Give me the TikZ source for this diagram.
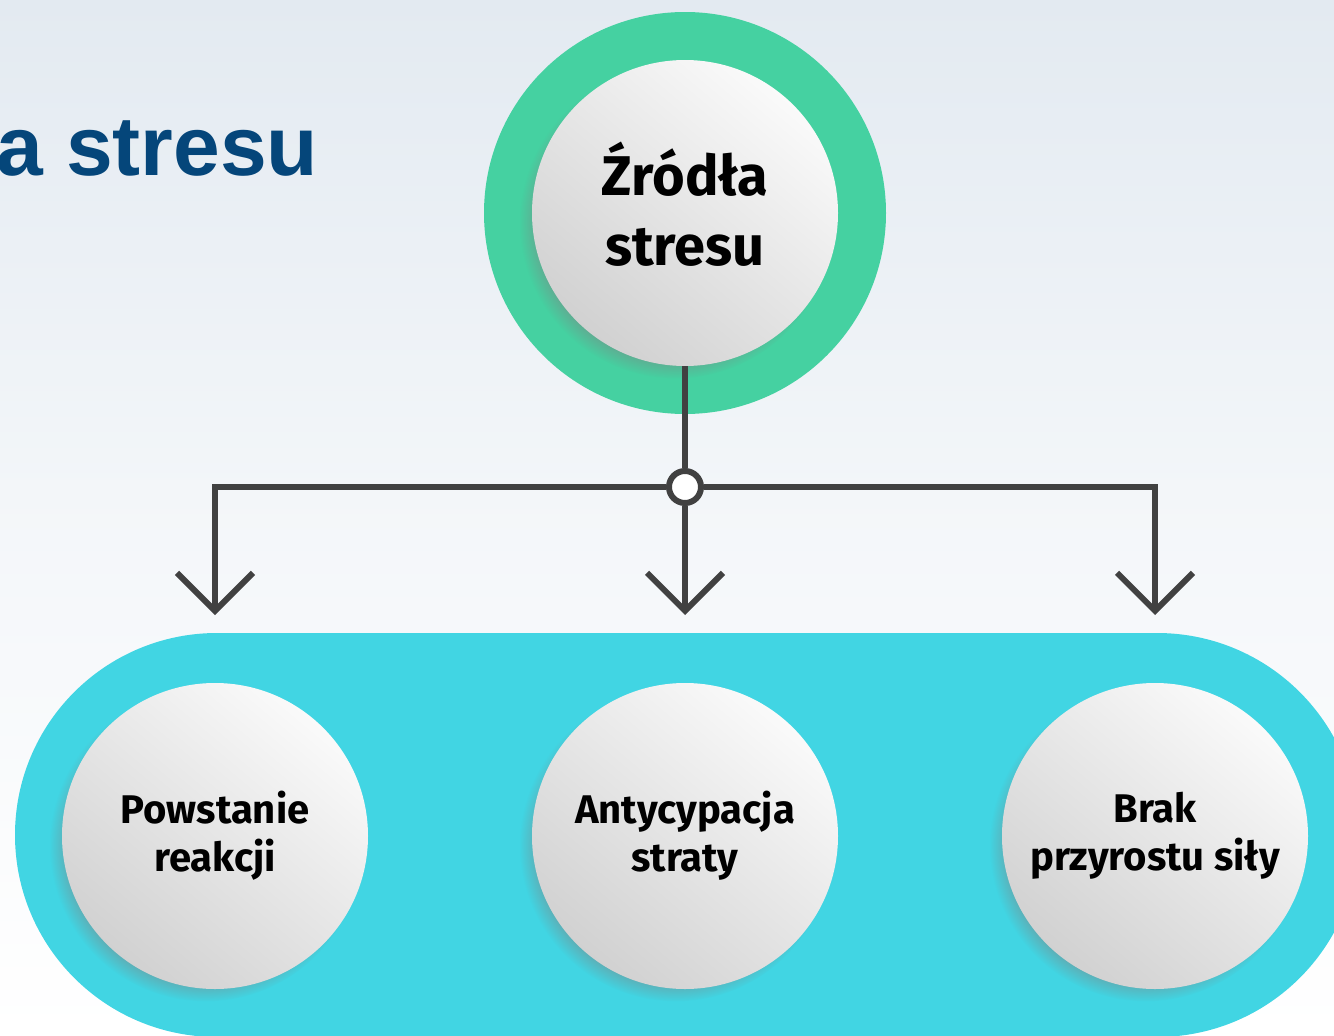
\documentclass[tikz,border=0pt]{standalone}
\usepackage{fontspec}
\setmainfont{Fira Sans}
\newfontfamily\titlefont{Liberation Sans}
\usepackage{tikz}
\usetikzlibrary{arrows.meta, shadows}

\definecolor{ringgreen}{HTML}{45D1A1}
\definecolor{pillcyan}{HTML}{41D5E3}
\definecolor{linegray}{HTML}{414141}
\definecolor{titleblue}{HTML}{05467A}
\definecolor{bgtop}{HTML}{E3EAF1}

\tikzset{
  ball/.style={circle, minimum size=306pt, inner sep=0pt, align=center,
    shading=axis, top color=white!98!black, bottom color=white!82!black, shading angle=-40,
    circular drop shadow={shadow xshift=-9pt, shadow yshift=-9pt, shadow scale=1.02, opacity=.6}},
}

\begin{document}
\begin{tikzpicture}[x=1pt, y=-1pt]
\useasboundingbox (0,0) rectangle (1334,1036);
\shade[top color=bgtop, bottom color=white, middle color=white!60!bgtop] (0,0) rectangle (1334,1036);

% title, cut off at the left edge
\node[anchor=base west, inner sep=0pt, text=titleblue,
      font=\titlefont\bfseries\fontsize{84}{84}\selectfont] (T) at (-4,175) {a stresu};

% backgrounds
\fill[ringgreen] (685,213) circle[radius=201];
\fill[pillcyan, rounded corners=202pt] (15,633) rectangle (1359,1037);

\begin{scope}[every node/.style={ball}]
    \node[font=\bfseries\fontsize{56}{70}\selectfont, text depth=18pt] (S) at (685,213) {Źródła\\stresu};
    \node[font=\bfseries\fontsize{40}{48}\selectfont] (P) at (215,836) {Powstanie\\reakcji};
    \node[font=\bfseries\fontsize{40}{48}\selectfont] (A) at (685,836) {Antycypacja\\straty};
    \node[font=\bfseries\fontsize{40}{48}\selectfont] (B) at (1155,836) {Brak\\przyrostu siły};
\end{scope}

\node[circle, draw=linegray, line width=6pt, fill=white, minimum size=32pt, inner sep=0pt] (J) at (685,487) {};
\coordinate (tP) at (215,615);
\coordinate (tA) at (685,615);
\coordinate (tB) at (1155,615);

\begin{scope}[>={Straight Barb[length=38pt, width=76pt]}, line width=6pt, draw=linegray]
    \draw (S) -- (J);
    \draw [->] (J) -| (tP);
    \draw [->] (J) -- (tA);
    \draw [->] (J) -| (tB);
\end{scope}
\end{tikzpicture}
\end{document}
